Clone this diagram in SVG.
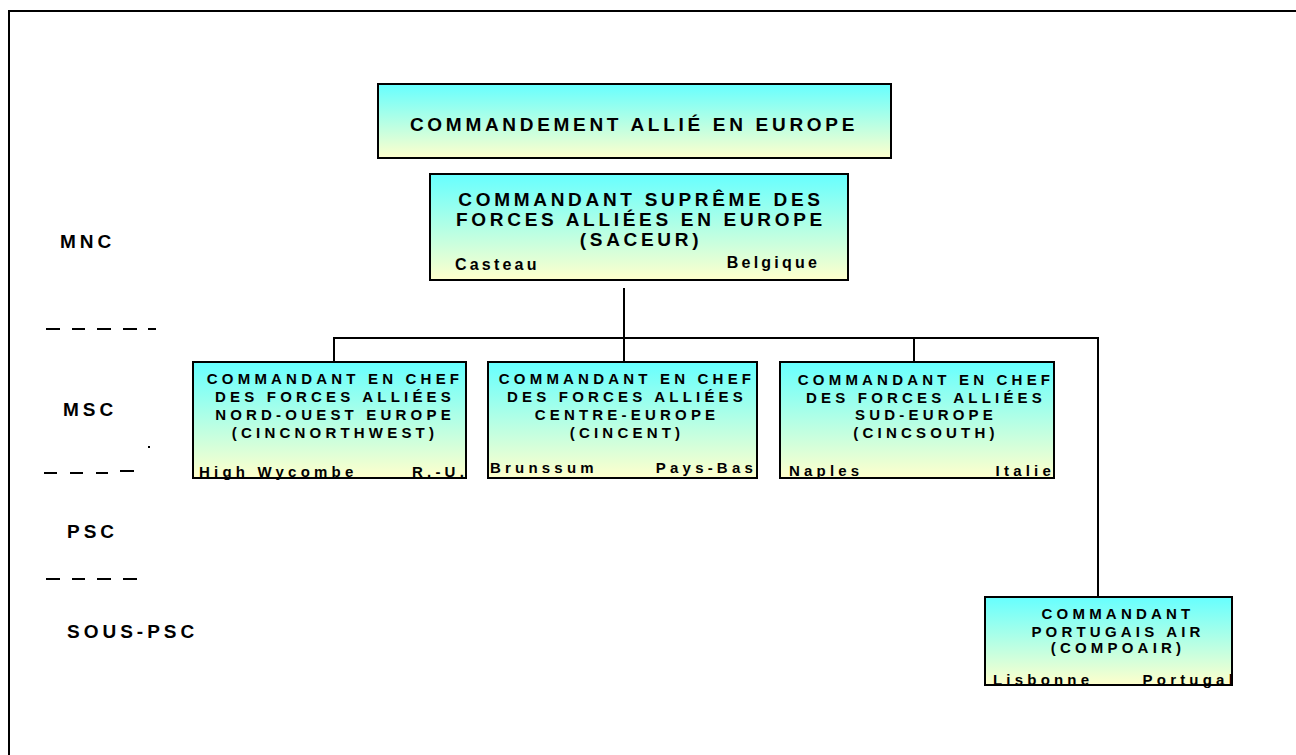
<svg xmlns="http://www.w3.org/2000/svg" width="1296" height="755" viewBox="0 0 1296 755">
  <style>
    .box { stroke: #000; stroke-width: 2; fill: url(#fillGrad); }
    .big { font-family: "Liberation Sans", Arial, sans-serif; font-weight: bold; font-size: 19px; letter-spacing: 3.7px; fill: #000; }
    .mid { font-family: "Liberation Sans", Arial, sans-serif; font-weight: bold; font-size: 15px; letter-spacing: 4.2px; fill: #000; }
    .loc { font-family: "Liberation Sans", Arial, sans-serif; font-weight: bold; font-size: 16px; letter-spacing: 3.2px; fill: #000; }
    .sloc { font-family: "Liberation Sans", Arial, sans-serif; font-weight: bold; font-size: 15px; letter-spacing: 4.2px; fill: #000; }
    .lvl { font-family: "Liberation Sans", Arial, sans-serif; font-weight: bold; font-size: 19px; letter-spacing: 4px; fill: #000; }
    .c { text-anchor: middle; }
    .e { text-anchor: end; }
    .wire { stroke: #000; stroke-width: 2; fill: none; }
    .dash { stroke: #000; stroke-width: 2; }
  </style>
  <defs>
    <linearGradient id="fillGrad" x1="0" y1="0" x2="0" y2="1">
      <stop offset="0" stop-color="#66FFFF"/>
      <stop offset="1" stop-color="#FFFFCC"/>
    </linearGradient>
  </defs>

  <rect width="1296" height="755" fill="#fff"/>
  <!-- page frame -->
  <rect x="9" y="11" width="1300" height="760" fill="none" stroke="#000" stroke-width="2"/>

  <!-- level labels -->
  <g id="levels">
    <text class="lvl" x="60" y="248">MNC</text>
    <text class="lvl" x="63" y="416">MSC</text>
    <text class="lvl" x="67" y="538">PSC</text>
    <text class="lvl" x="67" y="638">SOUS-PSC</text>
  </g>

  <!-- level separators -->
  <g id="separators">
    <line class="dash" x1="46" y1="329" x2="60" y2="329"/>
    <line class="dash" x1="72" y1="329" x2="85" y2="329"/>
    <line class="dash" x1="97" y1="329" x2="111" y2="329"/>
    <line class="dash" x1="123" y1="329" x2="137" y2="329"/>
    <line class="dash" x1="148" y1="329" x2="156" y2="329"/>

    <line class="dash" x1="44" y1="473" x2="57" y2="473"/>
    <line class="dash" x1="70" y1="473" x2="83" y2="473"/>
    <line class="dash" x1="96" y1="473" x2="108" y2="473"/>
    <line class="dash" x1="120" y1="471" x2="134" y2="471"/>

    <line class="dash" x1="46" y1="579" x2="60" y2="579"/>
    <line class="dash" x1="72" y1="579" x2="85" y2="579"/>
    <line class="dash" x1="97" y1="579" x2="111" y2="579"/>
    <line class="dash" x1="123" y1="579" x2="137" y2="579"/>

    <rect x="148" y="446" width="2" height="2" fill="#000"/>
    <rect x="463" y="445" width="2" height="2" fill="#000"/>
  </g>

  <!-- connectors -->
  <g id="connectors">
    <line class="wire" x1="624" y1="288" x2="624" y2="362"/>
    <line class="wire" x1="333" y1="338" x2="1099" y2="338"/>
    <line class="wire" x1="334" y1="337" x2="334" y2="362"/>
    <line class="wire" x1="914" y1="337" x2="914" y2="362"/>
    <line class="wire" x1="1098" y1="337" x2="1098" y2="597"/>
  </g>

  <g id="allied-command">
    <rect class="box" x="378" y="84" width="513" height="74"/>
    <text class="big c" x="634" y="131">COMMANDEMENT ALLIÉ EN EUROPE</text>
  </g>

  <g id="saceur">
    <rect class="box" x="430" y="174" width="418" height="106"/>
    <text class="big c" x="641" y="206">COMMANDANT SUPRÊME DES</text>
    <text class="big c" x="641" y="226">FORCES ALLIÉES EN EUROPE</text>
    <text class="big c" x="641" y="246">(SACEUR)</text>
    <text class="loc" x="455" y="270">Casteau</text>
    <text class="loc e" x="820" y="268">Belgique</text>
  </g>

  <g id="cincnorthwest">
    <rect class="box" x="193" y="362" width="273" height="116"/>
    <text class="mid c" x="335" y="384">COMMANDANT EN CHEF</text>
    <text class="mid c" x="335" y="402">DES FORCES ALLIÉES</text>
    <text class="mid c" x="335" y="420">NORD-OUEST EUROPE</text>
    <text class="mid c" x="335" y="438">(CINCNORTHWEST)</text>
    <text class="sloc" x="199" y="477">High Wycombe</text>
    <text class="sloc e" x="468" y="477">R.-U.</text>
  </g>

  <g id="cincent">
    <rect class="box" x="488" y="362" width="269" height="116"/>
    <text class="mid c" x="627" y="384">COMMANDANT EN CHEF</text>
    <text class="mid c" x="627" y="402">DES FORCES ALLIÉES</text>
    <text class="mid c" x="627" y="420">CENTRE-EUROPE</text>
    <text class="mid c" x="627" y="438">(CINCENT)</text>
    <text class="sloc" x="490" y="473">Brunssum</text>
    <text class="sloc e" x="757" y="473">Pays-Bas</text>
  </g>

  <g id="cincsouth">
    <rect class="box" x="780" y="362" width="274" height="116"/>
    <text class="mid c" x="926" y="385">COMMANDANT EN CHEF</text>
    <text class="mid c" x="926" y="403">DES FORCES ALLIÉES</text>
    <text class="mid c" x="926" y="420">SUD-EUROPE</text>
    <text class="mid c" x="926" y="438">(CINCSOUTH)</text>
    <text class="sloc" x="789" y="476">Naples</text>
    <text class="sloc e" x="1055" y="476">Italie</text>
  </g>

  <g id="compoair">
    <rect class="box" x="985" y="597" width="247" height="88"/>
    <text class="mid c" x="1118" y="619">COMMANDANT</text>
    <text class="mid c" x="1118" y="637">PORTUGAIS AIR</text>
    <text class="mid c" x="1118" y="653">(COMPOAIR)</text>
    <text class="sloc" x="993" y="685">Lisbonne</text>
    <text class="sloc e" x="1237" y="685">Portugal</text>
  </g>
</svg>
